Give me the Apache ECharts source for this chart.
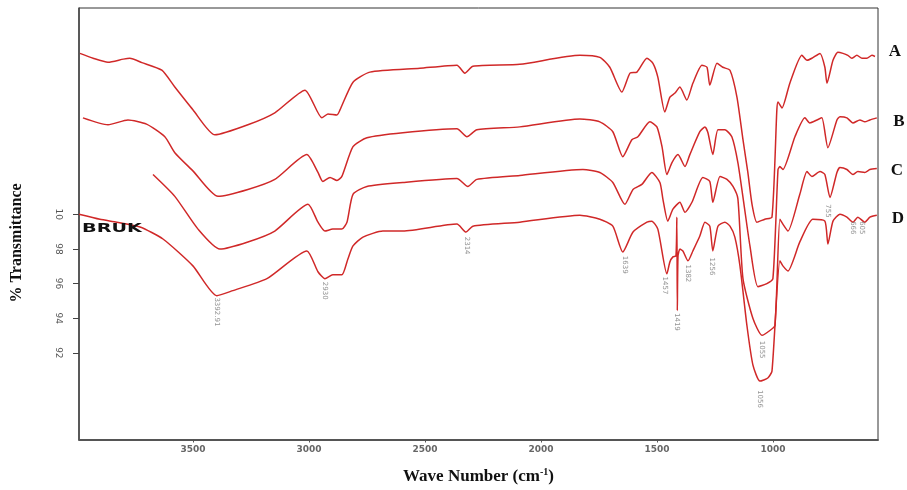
<!DOCTYPE html>
<html>
<head>
<meta charset="utf-8">
<script src="https://cdn.jsdelivr.net/npm/echarts@6/dist/echarts.min.js"></script>
<style>
  html, body { margin: 0; padding: 0; background: #fff; }
  #chart { width: 907px; height: 490px; }
</style>
</head>
<body>
<div id="chart"></div>
<script>
// FTIR spectra, stacked: [wave number, % transmittance (offset)]
const specA = [
  [3987,109.28],[3930,109.0],[3866,108.77],[3800,108.95],[3772,109.0],[3720,108.75],
  [3634,108.31],[3578,107.34],[3500,106.03],[3405,104.58],[3263,105.16],[3147,105.85],
  [3017,107.16],[2944,105.56],[2918,105.79],[2879,105.73],[2866,106.02],[2810,107.62],
  [2737,108.20],[2522,108.42],[2362,108.60],[2328,108.14],[2293,108.54],[2091,108.65],
  [1832,109.17],[1746,109.05],[1703,108.48],[1651,107.05],[1616,108.14],[1586,108.20],
  [1543,109.0],[1517,108.71],[1496,107.91],[1466,105.90],[1444,106.76],[1422,106.99],
  [1401,107.34],[1371,106.59],[1345,107.56],[1306,108.60],[1284,108.48],[1272,107.45],
  [1241,108.71],[1216,108.48],[1185,108.31],[1155,106.76],[1129,104.30],[1108,102.41],
  [1090,100.57],[1069,99.54],[1035,99.71],[1004,99.83],[983,106.02],[978,106.48],
  [961,106.13],[927,107.56],[875,109.17],[853,108.88],[832,109.0],[797,109.28],
  [776,108.48],[767,107.56],[741,108.88],[720,109.34],[698,109.28],[677,109.17],
  [660,109.0],[638,109.17],[616,109.0],[595,109.0],[573,109.17],[560,109.1]
];
const specB = [
  [3974,105.56],[3866,105.16],[3780,105.44],[3700,105.2],[3621,104.47],[3578,103.55],
  [3500,102.5],[3392,101.03],[3263,101.43],[3147,102.01],[3009,103.44],[2961,102.41],
  [2940,101.89],[2909,102.12],[2879,101.95],[2858,102.18],[2810,103.90],[2750,104.41],
  [2595,104.70],[2362,104.93],[2319,104.47],[2276,104.87],[2091,105.04],[1832,105.50],
  [1746,105.33],[1690,104.76],[1647,103.32],[1608,104.30],[1582,104.47],[1530,105.33],
  [1500,105.04],[1478,103.90],[1457,102.29],[1435,102.98],[1409,103.44],[1379,102.75],
  [1358,103.44],[1315,104.76],[1293,105.04],[1280,104.70],[1259,103.44],[1237,104.87],
  [1207,104.87],[1177,104.47],[1151,102.98],[1125,100.6],[1099,98.17],[1065,95.82],
  [1026,95.99],[1000,96.28],[978,102.58],[970,102.75],[957,102.58],[905,104.47],
  [862,105.56],[841,105.27],[810,105.44],[789,105.56],[763,103.84],[724,105.44],
  [711,105.62],[681,105.56],[655,105.27],[625,105.44],[604,105.33],[582,105.44],[552,105.56]
];
const specC = [
  [3672,102.29],[3578,101.03],[3478,99.14],[3384,97.99],[3263,98.40],[3147,99.03],
  [3004,100.57],[2961,99.54],[2931,99.03],[2897,99.14],[2858,99.14],[2836,99.54],
  [2810,101.15],[2750,101.60],[2595,101.83],[2362,102.06],[2315,101.60],[2276,102.01],
  [2091,102.24],[1819,102.58],[1746,102.41],[1690,101.83],[1638,100.57],[1603,101.43],
  [1565,101.72],[1522,102.41],[1487,101.83],[1474,100.86],[1453,99.60],[1431,100.29],
  [1401,100.69],[1379,100.11],[1349,100.69],[1302,102.12],[1272,101.89],[1259,100.69],
  [1228,102.18],[1198,102.01],[1172,101.60],[1151,100.9],[1129,96.28],[1086,93.98],
  [1047,93.01],[1013,93.29],[991,93.58],[970,99.71],[957,99.43],[935,99.03],[884,101.15],
  [853,102.46],[832,102.18],[797,102.46],[776,102.29],[754,100.97],[724,102.41],
  [711,102.69],[681,102.58],[655,102.29],[634,102.46],[604,102.41],[582,102.58],[552,102.64]
];
const specD = [
  [3991,100.0],[3901,99.71],[3828,99.54],[3728,99.26],[3629,98.57],[3500,97.02],
  [3397,95.30],[3328,95.59],[3181,96.28],[3009,97.88],[2961,96.68],[2931,96.28],
  [2897,96.50],[2858,96.50],[2832,97.42],[2810,98.17],[2767,98.68],[2681,99.03],
  [2595,99.03],[2362,99.43],[2323,98.97],[2293,99.31],[2091,99.54],[1832,99.94],
  [1746,99.71],[1690,99.31],[1647,97.82],[1603,98.97],[1543,99.54],[1522,99.60],
  [1496,99.14],[1457,96.56],[1444,97.25],[1431,97.54],[1418,97.59],[1414,99.83],
  [1412,94.44],[1409,97.59],[1401,97.99],[1388,97.88],[1366,97.31],[1345,97.88],
  [1315,98.74],[1293,99.54],[1272,99.31],[1259,97.88],[1237,99.31],[1207,99.54],
  [1185,99.31],[1164,98.68],[1142,97.02],[1112,93.58],[1086,91.29],[1056,90.37],
  [1022,90.55],[1004,90.95],[970,97.31],[957,97.02],[935,96.73],[884,98.40],
  [828,99.71],[776,99.60],[763,98.28],[741,99.60],[711,100.0],[681,99.83],
  [655,99.54],[634,99.83],[604,99.54],[582,99.83],[552,99.94]
];
const curveNames = ['A', 'B', 'C', 'D'];

// peak annotations
const peakWave = [3397, 2931, 2319, 1638, 1466, 1414, 1366, 1263, 1056, 1047, 763, 655, 616];
const peakT = [95.2, 96.1, 98.7, 97.6, 96.4, 94.3, 97.1, 97.5, 89.85, 92.7, 100.57, 99.6, 99.6];
const peakText = ['3392.91', '2930', '2314', '1639', '1457', '1419', '1382', '1256',
  '1056', '1055', '755', '666', '605'];

const xTicks = [3500, 3000, 2500, 2000, 1500, 1000];
const yTicks = [92, 94, 96, 98, 100];

const chart = echarts.init(document.getElementById('chart'));
const red = '#d02828';
const serif = '"Liberation Serif", "DejaVu Serif", serif';

const series = [specA, specB, specC, specD].map((d, i) => ({
  name: curveNames[i],
  type: 'line',
  data: d,
  showSymbol: false,
  symbol: 'none',
  smooth: 0.2,
  lineStyle: { color: red, width: 1.5 },
  z: 3
}));

series.push({
  type: 'scatter',
  data: peakWave.map((w, i) => [w, peakT[i], peakText[i]]),
  symbolSize: 0,
  silent: true,
  label: {
    show: true,
    position: 'inside',
    rotate: -90,
    align: 'left',
    verticalAlign: 'middle',
    formatter: p => p.data[2],
    fontSize: 7,
    color: '#777',
    fontFamily: 'DejaVu Sans'
  },
  z: 4
});

chart.setOption({
  animation: false,
  grid: {
    left: 79, right: 29, top: 8, bottom: 47,
    show: true, borderColor: '#333', borderWidth: 1
  },
  xAxis: {
    type: 'value',
    inverse: true,
    min: 547,
    max: 3991,
    name: '{a|Wave Number (cm}{s|-1}{a|)}',
    nameLocation: 'middle',
    nameGap: 28,
    nameTextStyle: {
      rich: {
        a: { fontFamily: serif, fontWeight: 'bold', fontSize: 17, color: '#111' },
        s: { fontFamily: serif, fontWeight: 'bold', fontSize: 10, color: '#111', verticalAlign: 'top', padding: [0, 0, 8, 0] }
      }
    },
    axisLine: { show: true, lineStyle: { color: '#555', width: 2 } },
    axisTick: { show: true, customValues: xTicks, length: 3, lineStyle: { color: '#555' } },
    axisLabel: {
      customValues: xTicks,
      margin: 6,
      fontSize: 9,
      fontWeight: 'bold',
      color: '#666',
      fontFamily: 'DejaVu Sans',
      formatter: v => String(v)
    },
    splitLine: { show: false }
  },
  yAxis: {
    type: 'value',
    min: 87,
    max: 111.9,
    axisLine: { show: true, lineStyle: { color: '#444', width: 1.5 } },
    axisTick: { show: true, customValues: yTicks, length: 6, lineStyle: { color: '#444' } },
    axisLabel: {
      customValues: yTicks,
      rotate: -90,
      margin: 16,
      fontSize: 9,
      color: '#555',
      fontFamily: 'DejaVu Sans',
      formatter: v => (v === 100 ? '10' : String(v))
    },
    splitLine: { show: false }
  },
  graphic: [
    {
      type: 'text', x: 17, y: 243, rotation: Math.PI / 2,
      style: {
        text: '% Transmittance', font: 'bold 16px ' + serif, fill: '#111',
        align: 'center', verticalAlign: 'middle'
      }
    },
    { type: 'text', x: 895, y: 52, style: { text: 'A', font: 'bold 17px ' + serif, fill: '#111', align: 'center', verticalAlign: 'middle' } },
    { type: 'text', x: 899, y: 122, style: { text: 'B', font: 'bold 17px ' + serif, fill: '#111', align: 'center', verticalAlign: 'middle' } },
    { type: 'text', x: 897, y: 171, style: { text: 'C', font: 'bold 17px ' + serif, fill: '#111', align: 'center', verticalAlign: 'middle' } },
    { type: 'text', x: 898, y: 219, style: { text: 'D', font: 'bold 17px ' + serif, fill: '#111', align: 'center', verticalAlign: 'middle' } },
    { type: 'text', x: 82, y: 229, scaleX: 1.6, style: { text: 'BRUK', font: 'bold 12px "DejaVu Sans"', fill: '#111', align: 'left', verticalAlign: 'middle' }, z: 10 }
  ],
  series: series
});
</script>
</body>
</html>
